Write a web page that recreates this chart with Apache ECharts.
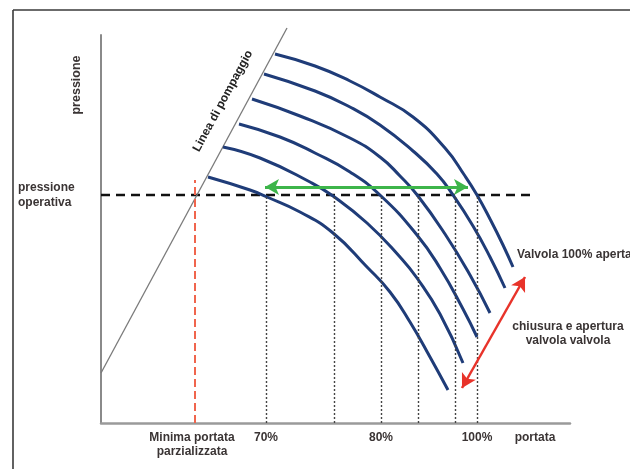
<!DOCTYPE html>
<html><head><meta charset="utf-8">
<script src="https://cdn.jsdelivr.net/npm/echarts@6/dist/echarts.min.js"></script>
<style>html,body{margin:0;padding:0;background:#fff}#c{width:630px;height:469px}</style>
</head><body><div id="c"></div>
<script>
// Schematic units: x = portata (flow, arbitrary), y = pressione (arbitrary)
const xTickValues = [91, 165, 280, 376, 434];
const xTickLabels = ['Minima portata\nparzializzata', '70%', '80%', '100%', 'portata'];
const yTickValues = [228];
const yTickLabels = ['pressione\noperativa'];

const curve1 = [[174,369],[214,357],[249,342],[279,326],[312,306],[344,275],[364,247],[376,228],[389,204],[402,178],[412,156]];
const curve2 = [[163,349],[214,332],[249,316],[279,298],[312,272],[336,249],[352,228],[372,197],[389,166],[404,135]];
const curve3 = [[151,324],[199,307],[249,285],[279,266],[299,247],[317,227],[344,189],[369,148],[389,110]];
const curve4 = [[138,299],[179,286],[214,270],[249,251],[280,227],[316,188],[339,155],[362,114],[376,86]];
const curve5 = [[122,276],[159,265],[209,241],[232,227],[266,200],[299,166],[316,145],[339,109],[362,60]];
const curve6 = [[107,246],[149,233],[166,226],[199,211],[232,190],[266,156],[289,131],[309,101],[329,66],[347,33]];

const operatingPressure = 228;
const operatingLineEnd = 432;
const surgeLine = [[0,50],[186,395]];
const minFlowX = 94;
const minFlowTop = 243;
const intersectionX = [165, 233, 280, 317, 354, 376];
const rangeArrow = [[164,236],[367,236]];
const valveArrow = [[424,146],[361,35]];

const FONT = 'Liberation Sans, Arial, sans-serif';
const TXT = '#3a3434';
const chart = echarts.init(document.getElementById('c'), null, {renderer: 'canvas'});

const curves = [curve1, curve2, curve3, curve4, curve5, curve6].map(d => ({
  type: 'line', data: d, smooth: 0.5, showSymbol: false, silent: true,
  lineStyle: {color: '#1f3c78', width: 3}
}));

const option = {
  animation: false,
  backgroundColor: '#fff',
  grid: {left: 101, right: 60, top: 35, bottom: 46},
  xAxis: {
    type: 'value', min: 0, max: 469,
    axisLine: {show: true, lineStyle: {color: '#9a9a9a', width: 2.5}},
    axisTick: {show: false}, splitLine: {show: false},
    axisLabel: {
      customValues: xTickValues, margin: 8, hideOverlap: false,
      fontFamily: FONT, fontWeight: 'bold', fontSize: 12, color: TXT, lineHeight: 14,
      formatter: v => xTickLabels[xTickValues.indexOf(v)]
    }
  },
  yAxis: {
    type: 'value', min: 0, max: 388,
    axisLine: {show: true, lineStyle: {color: '#8a8a8a', width: 2}},
    axisTick: {show: false}, splitLine: {show: false},
    axisLabel: {
      customValues: yTickValues, margin: 83, align: 'left', hideOverlap: false,
      fontFamily: FONT, fontWeight: 'bold', fontSize: 12, color: TXT, lineHeight: 15,
      padding: [6, 0, 0, 0],
      formatter: v => yTickLabels[yTickValues.indexOf(v)]
    }
  },
  series: [
    {
      type: 'line', data: [[0, operatingPressure], [operatingLineEnd, operatingPressure]],
      showSymbol: false, silent: true,
      lineStyle: {color: '#111', width: 2.5, type: [9, 6]},
      markLine: {
        silent: true, symbol: 'none', label: {show: false},
        lineStyle: {color: '#444', width: 1.4, type: [2, 2]},
        data: intersectionX.map(x => [{coord: [x, 0]}, {coord: [x, operatingPressure]}])
      }
    },
    {
      type: 'line', data: surgeLine, showSymbol: false, silent: true, clip: false,
      lineStyle: {color: '#7a7a7a', width: 1.3}
    },
    {
      type: 'line', data: [[minFlowX, 0], [minFlowX, minFlowTop]], showSymbol: false, silent: true,
      lineStyle: {color: '#f0654d', width: 2, type: [8, 4]}
    },
    ...curves,
    {
      type: 'line', data: [], silent: true,
      markLine: {
        silent: true, symbol: ['arrow', 'arrow'], symbolSize: [12, 14], label: {show: false},
        data: [
          [{coord: rangeArrow[0], lineStyle: {color: '#3db54a', width: 3, type: 'solid'}}, {coord: rangeArrow[1]}],
          [{coord: valveArrow[0], lineStyle: {color: '#e8332a', width: 2.5, type: 'solid'}}, {coord: valveArrow[1]}]
        ]
      }
    }
  ],
  graphic: [
    {type: 'line', shape: {x1: 13, y1: 10, x2: 630, y2: 10}, style: {stroke: '#3a3a3a', lineWidth: 1.6}},
    {type: 'line', shape: {x1: 13, y1: 10, x2: 13, y2: 469}, style: {stroke: '#3a3a3a', lineWidth: 1.6}},
    {type: 'text', x: 77, y: 85, rotation: Math.PI / 2,
      style: {text: 'pressione', font: 'bold 12.5px ' + FONT, fill: TXT, align: 'center', verticalAlign: 'middle'}},
    {type: 'text', x: 223, y: 101, rotation: Math.atan(345 / 186),
      style: {text: 'Linea di pompaggio', font: 'bold 12px ' + FONT, fill: '#222', align: 'center', verticalAlign: 'middle'}},
    {type: 'text', x: 517, y: 255,
      style: {text: 'Valvola 100% aperta', font: 'bold 12px ' + FONT, fill: TXT, align: 'left', verticalAlign: 'middle'}},
    {type: 'text', x: 568, y: 334,
      style: {text: 'chiusura e apertura\nvalvola valvola', font: 'bold 12px ' + FONT, fill: TXT, align: 'center', verticalAlign: 'middle', lineHeight: 14}}
  ]
};
chart.setOption(option);
</script>
</body></html>
